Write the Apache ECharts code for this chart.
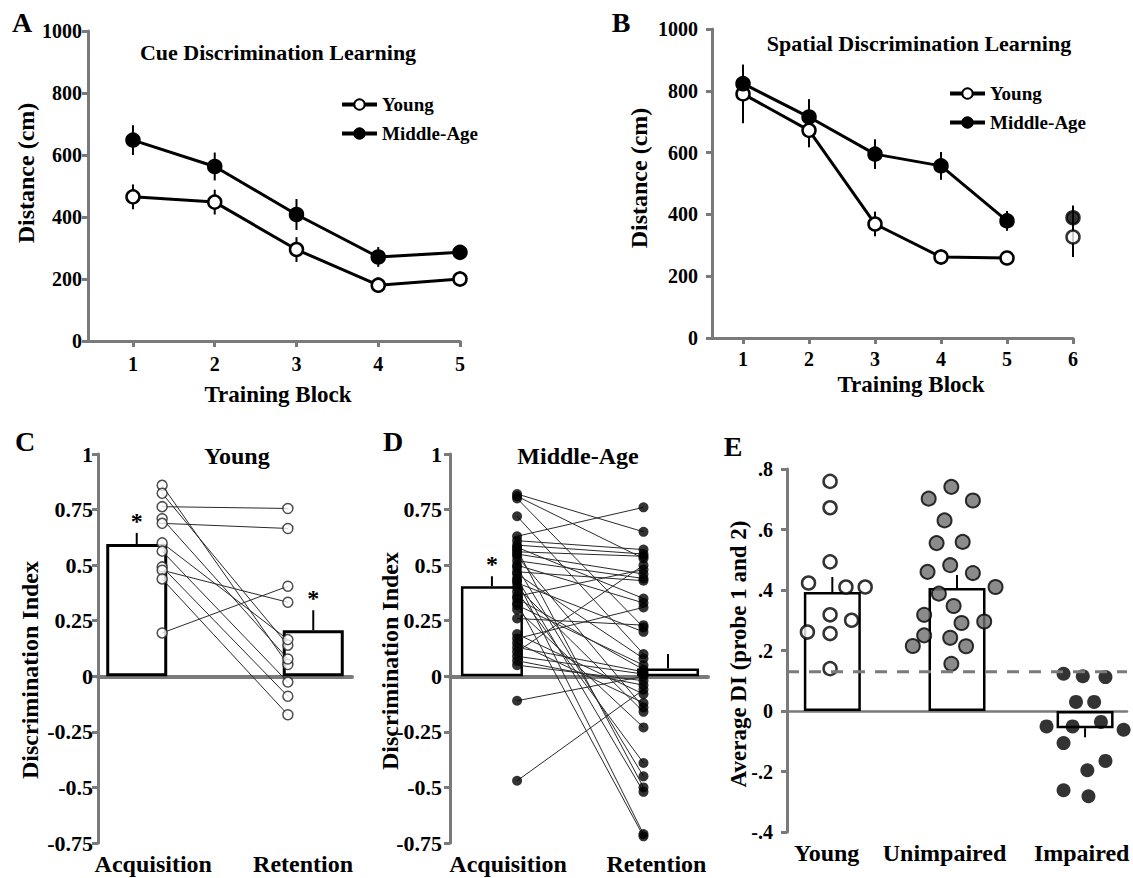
<!DOCTYPE html>
<html><head><meta charset="utf-8">
<script src="https://cdn.jsdelivr.net/npm/echarts@6/dist/echarts.min.js"></script>
<style>html,body{margin:0;padding:0;background:#fff}#c{width:1133px;height:878px}</style>
</head><body><div id="c"></div>
<script>
// ---------------- DATA ----------------
// Panel A: Cue discrimination learning
const blocksA = [1, 2, 3, 4, 5];
const cueYoung = [465, 448, 295, 180, 200];
const cueYoungErr = [40, 40, 40, 25, 25];
const cueMid = [648, 563, 408, 271, 286];
const cueMidErr = [48, 45, 50, 32, 18];
// Panel B: Spatial discrimination learning
const blocksB = [1, 2, 3, 4, 5, 6];
const spYoung = [790, 672, 369, 262, 259, 327];
const spYoungErr = [95, 55, 40, 25, 15, 65];
const spMid = [823, 715, 595, 557, 379, 389];
const spMidErr = [60, 58, 48, 45, 32, 40];
// Panels C/D: Discrimination index
const phases = ['Acquisition', 'Retention'];
const youngMean = [0.595, 0.207];
const youngSem = [0.05, 0.09];
const youngSig = ['*', '*'];
const youngAcq = [0.859, 0.823, 0.763, 0.709, 0.688, 0.600, 0.563, 0.492, 0.477, 0.438, 0.195];
const youngRet = [0.053, 0.140, 0.755, 0.078, 0.665, 0.165, -0.026, -0.090, 0.333, -0.173, 0.405];
const midMean = [0.405, 0.035];
const midSem = [0.045, 0.065];
const midSig = ['*', ''];
const midAcq = [0.82,0.81,0.80,0.72,0.63,0.61,0.59,0.58,0.57,0.56,0.55,0.54,0.52,0.50,0.49,0.47,0.46,0.44,0.43,0.42,0.40,0.38,0.36,0.35,0.33,0.32,0.30,0.26,0.19,0.17,0.15,0.13,0.11,0.09,0.07,0.05,-0.11,-0.47];
const midRet = [0.65,0.53,0.22,0.10,0.76,0.57,0.55,0.35,-0.50,0.54,0.46,-0.14,0.44,0.33,-0.45,0.43,0.08,-0.52,-0.71,0.20,-0.16,-0.39,0.48,0.03,-0.72,0.05,-0.23,0.23,-0.08,0.31,-0.12,0.02,0.50,0.01,-0.04,-0.02,0.00,-0.06];
// Panel E: Average DI, [jitter, value]
const groupsE = ['Young', 'Unimpaired', 'Impaired'];
const diMean = [0.393, 0.407, -0.057];
const diSem = [0.05, 0.043, 0.03];
const diYoung = [[-0.02,0.759],[-0.02,0.672],[-0.02,0.493],[-0.21,0.423],[0.12,0.41],[0.29,0.41],[-0.02,0.318],[0.17,0.30],[-0.22,0.261],[-0.02,0.256],[-0.02,0.14]];
const diUnimp = [[-0.05,0.741],[-0.25,0.702],[0.14,0.696],[-0.11,0.63],[-0.18,0.555],[0.05,0.559],[-0.06,0.482],[-0.26,0.46],[0.14,0.456],[0.34,0.41],[-0.16,0.388],[-0.03,0.347],[-0.29,0.318],[0.04,0.291],[0.24,0.296],[-0.29,0.25],[-0.06,0.242],[-0.39,0.215],[0.08,0.214],[-0.05,0.156]];
const diImp = [[-0.19,0.123],[-0.02,0.115],[0.18,0.112],[-0.08,0.03],[0.08,0.03],[-0.34,-0.051],[-0.11,-0.051],[0.14,-0.036],[0.34,-0.062],[-0.19,-0.106],[0.18,-0.165],[0.02,-0.196],[-0.19,-0.262],[0.03,-0.282]];
const criterion = 0.13;

// ---------------- LAYOUT / STYLE ----------------
const FONT = '"Liberation Serif", "Times New Roman", serif';
const AX = '#7a7a7a';
const txt = (s) => ({ fontFamily: FONT, fontWeight: 'bold', fontSize: s, color: '#000' });
const barPosC = [0.61, 3.39], ptPosC = [1.01, 2.99], labPosC = [0.87, 3.23];
const barPosD = [0.65, 3.38], ptPosD = [1.04, 3.0], labPosD = [0.9, 3.2];
const posE = [0.4, 1.5, 2.63], labPosE = [0.35, 1.39, 2.6];

function nearestLabel(v, pos, labels) {
  let best = 0;
  pos.forEach((p, i) => { if (Math.abs(p - v) < Math.abs(pos[best] - v)) best = i; });
  return labels[best];
}

function errRender(params, api) {
  const x = api.value(0), y = api.value(1), e = api.value(2);
  const p1 = api.coord([x, y - e]), p2 = api.coord([x, y + e]);
  return { type: 'line', shape: { x1: p1[0], y1: p1[1], x2: p2[0], y2: p2[1] }, style: { stroke: '#000', lineWidth: 2 } };
}
function oneSidedErr(params, api) {
  const x = api.value(0), m = api.value(1), e = api.value(2), sig = api.value(3);
  const s = m >= 0 ? 1 : -1;
  const p1 = api.coord([x, m]), p2 = api.coord([x, m + s * e]);
  const children = [{ type: 'line', shape: { x1: p1[0], y1: p1[1], x2: p2[0], y2: p2[1] }, style: { stroke: '#000', lineWidth: 2 } }];
  if (sig === 1) {
    children.push({ type: 'text', x: p2[0], y: p2[1] - 15 - 0.39 * 24,
      style: { text: '*', fontFamily: FONT, fontWeight: 'bold', fontSize: 24, fill: '#000', align: 'center', verticalAlign: 'top' } });
  }
  return { type: 'group', children };
}
function pairRender(pts) {
  return function (params, api) {
    const p1 = api.coord([pts[0], api.value(0)]), p2 = api.coord([pts[1], api.value(1)]);
    return { type: 'line', shape: { x1: p1[0], y1: p1[1], x2: p2[0], y2: p2[1] }, style: { stroke: '#2a2a2a', lineWidth: 1 } };
  };
}
function gText(text, x, y, size, rot) {
  return { type: 'text', x, y, rotation: rot || 0, z: 100,
    style: { text, fill: '#000', fontFamily: FONT, fontWeight: 'bold', fontSize: size, align: 'center', verticalAlign: 'middle' } };
}

const yAxisBase = (grid, extra) => Object.assign({
  gridIndex: grid, type: 'value',
  axisLine: { show: true, onZero: false, lineStyle: { color: AX, width: 3 } },
  axisTick: { show: true, length: 6, lineStyle: { color: AX, width: 3 } },
  splitLine: { show: false }
}, extra);

const xLabelAxis = (grid, pos, labels, max) => ({
  gridIndex: grid, type: 'value', min: 0, max, position: 'bottom',
  axisLine: { show: false, onZero: false }, axisTick: { show: false }, splitLine: { show: false },
  axisLabel: Object.assign({ customValues: pos, margin: 9, formatter: (v) => nearestLabel(v, pos, labels) }, txt(24))
});
const xZeroAxis = (grid, max, w) => ({
  gridIndex: grid, type: 'value', min: 0, max, position: 'bottom',
  axisLine: { show: true, onZero: true, lineStyle: { color: AX, width: w } },
  axisTick: { show: false }, axisLabel: { show: false }, splitLine: { show: false }
});

const fmtE = (v) => {
  const r = Math.round(v * 10) / 10;
  if (r === 0) return '0';
  return (r < 0 ? '-' : '') + Math.abs(r).toFixed(1).replace(/^0/, '');
};
const plain = (v) => String(v);

const lineStyleSeries = (name, xi, data, filled) => ({
  name, type: 'line', xAxisIndex: xi, yAxisIndex: xi, data, z: 3,
  symbol: 'circle', symbolSize: 13,
  itemStyle: { color: filled ? '#000' : '#fff', borderColor: '#000', borderWidth: 2.5 },
  lineStyle: { color: '#000', width: 3 }
});
const scatterLike = (name, xi, data, filled) => ({
  name, type: 'scatter', xAxisIndex: xi, yAxisIndex: xi, data, z: 3,
  symbol: 'circle', symbolSize: 13,
  itemStyle: { color: filled ? '#000' : '#fff', borderColor: '#000', borderWidth: 2.5 }
});
const legendBase = (left, top) => ({
  data: ['Young', 'Middle-Age'], left, top, orient: 'vertical', itemWidth: 35, itemHeight: 13, itemGap: 10,
  selectedMode: false, padding: 0, textStyle: txt(19),
  lineStyle: { width: 4, color: '#000' }
});

const option = {
  animation: false,
  backgroundColor: '#fff',
  grid: [
    { left: 88, top: 31, width: 372, height: 310 },
    { left: 712, top: 29, width: 361, height: 309 },
    { left: 98, top: 454, width: 254, height: 389 },
    { left: 450, top: 454, width: 258, height: 389 },
    { left: 787, top: 469, width: 340, height: 363 }
  ],
  xAxis: [
    { gridIndex: 0, type: 'value', min: 0.45, max: 5,
      axisLine: { onZero: false, lineStyle: { color: AX, width: 3 } },
      axisTick: { customValues: blocksA, length: 6, lineStyle: { color: AX, width: 3 } },
      axisLabel: Object.assign({ customValues: blocksA, margin: 13 }, txt(20)), splitLine: { show: false } },
    { gridIndex: 1, type: 'value', min: 0.53, max: 6,
      axisLine: { onZero: false, lineStyle: { color: AX, width: 3 } },
      axisTick: { customValues: blocksB, length: 6, lineStyle: { color: AX, width: 3 } },
      axisLabel: Object.assign({ customValues: blocksB, margin: 11 }, txt(20)), splitLine: { show: false } },
    xLabelAxis(2, labPosC, phases, 4),
    xLabelAxis(3, labPosD, phases, 4),
    xLabelAxis(4, labPosE, groupsE, 3),
    xZeroAxis(2, 4, 4),
    xZeroAxis(3, 4, 4),
    xZeroAxis(4, 3, 2.5)
  ],
  yAxis: [
    yAxisBase(0, { min: 0, max: 1000, interval: 200, axisLabel: Object.assign({ margin: 6, formatter: plain }, txt(20)) }),
    yAxisBase(1, { min: 0, max: 1000, interval: 200, axisLabel: Object.assign({ margin: 14, formatter: plain }, txt(20)) }),
    yAxisBase(2, { min: -0.75, max: 1, interval: 0.25, axisLabel: Object.assign({ margin: 5, formatter: plain }, txt(22)) }),
    yAxisBase(3, { min: -0.75, max: 1, interval: 0.25, axisLabel: Object.assign({ margin: 8, formatter: plain }, txt(22)) }),
    yAxisBase(4, { min: -0.4, max: 0.8, interval: 0.2, axisLabel: Object.assign({ margin: 14, formatter: fmtE }, txt(20)) })
  ],
  legend: [legendBase(340, 95), legendBase(948, 84)],
  graphic: [
    gText('A', 22, 22, 28), gText('B', 621, 22, 28), gText('C', 25, 441, 28), gText('D', 393, 441, 28), gText('E', 733, 446, 28),
    gText('Cue Discrimination Learning', 278, 52, 22),
    gText('Spatial Discrimination Learning', 919, 43, 22),
    gText('Young', 237, 456, 24),
    gText('Middle-Age', 578, 456, 24),
    gText('Training Block', 278, 394, 23),
    gText('Training Block', 911, 384, 23),
    gText('Distance (cm)', 26, 173, 24, Math.PI / 2),
    gText('Distance (cm)', 639, 178, 24, Math.PI / 2),
    gText('Discrimination Index', 30, 670, 24, Math.PI / 2),
    gText('Discrimination Index', 390, 661, 24, Math.PI / 2),
    gText('Average DI (probe 1 and 2)', 738, 654, 23, Math.PI / 2)
  ],
  series: [
    // ---- A ----
    lineStyleSeries('Young', 0, blocksA.map((b, i) => [b, cueYoung[i]]), false),
    lineStyleSeries('Middle-Age', 0, blocksA.map((b, i) => [b, cueMid[i]]), true),
    { name: 'errA1', type: 'custom', xAxisIndex: 0, yAxisIndex: 0, z: 1, renderItem: errRender,
      data: blocksA.map((b, i) => [b, cueYoung[i], cueYoungErr[i]]) },
    { name: 'errA2', type: 'custom', xAxisIndex: 0, yAxisIndex: 0, z: 1, renderItem: errRender,
      data: blocksA.map((b, i) => [b, cueMid[i], cueMidErr[i]]) },
    // ---- B ----
    lineStyleSeries('Young', 1, blocksB.slice(0, 5).map((b, i) => [b, spYoung[i]]), false),
    lineStyleSeries('Middle-Age', 1, blocksB.slice(0, 5).map((b, i) => [b, spMid[i]]), true),
    scatterLike('Young', 1, [[blocksB[5], spYoung[5]]], false),
    scatterLike('Middle-Age', 1, [[blocksB[5], spMid[5]]], true),
    { name: 'errB1', type: 'custom', xAxisIndex: 1, yAxisIndex: 1, z: 1, renderItem: errRender,
      data: blocksB.map((b, i) => [b, spYoung[i], spYoungErr[i]]) },
    { name: 'errB2', type: 'custom', xAxisIndex: 1, yAxisIndex: 1, z: 1, renderItem: errRender,
      data: blocksB.map((b, i) => [b, spMid[i], spMidErr[i]]) },
    // ---- C ----
    { name: 'barC', type: 'bar', xAxisIndex: 2, yAxisIndex: 2, barWidth: 61, z: 1,
      itemStyle: { color: '#fff', borderColor: '#000', borderWidth: 3 },
      data: phases.map((p, i) => [barPosC[i], youngMean[i]]) },
    { name: 'semC', type: 'custom', xAxisIndex: 2, yAxisIndex: 2, z: 2, renderItem: oneSidedErr,
      data: phases.map((p, i) => [barPosC[i], youngMean[i], youngSem[i], youngSig[i] ? 1 : 0]) },
    { name: 'pairsC', type: 'custom', xAxisIndex: 2, yAxisIndex: 2, z: 3, renderItem: pairRender(ptPosC),
      data: youngAcq.map((a, i) => [a, youngRet[i]]) },
    { name: 'acqC', type: 'scatter', xAxisIndex: 2, yAxisIndex: 2, z: 4, symbolSize: 10,
      itemStyle: { color: '#fff', borderColor: '#222', borderWidth: 1.5 }, data: youngAcq.map(v => [ptPosC[0], v]) },
    { name: 'retC', type: 'scatter', xAxisIndex: 2, yAxisIndex: 2, z: 4, symbolSize: 10,
      itemStyle: { color: '#fff', borderColor: '#222', borderWidth: 1.5 }, data: youngRet.map(v => [ptPosC[1], v]) },
    // ---- D ----
    { name: 'barD', type: 'bar', xAxisIndex: 3, yAxisIndex: 3, barWidth: 62, z: 1,
      itemStyle: { color: '#fff', borderColor: '#000', borderWidth: 2.5 },
      data: phases.map((p, i) => [barPosD[i], midMean[i]]) },
    { name: 'semD', type: 'custom', xAxisIndex: 3, yAxisIndex: 3, z: 2, renderItem: oneSidedErr,
      data: phases.map((p, i) => [barPosD[i], midMean[i], midSem[i], midSig[i] ? 1 : 0]) },
    { name: 'pairsD', type: 'custom', xAxisIndex: 3, yAxisIndex: 3, z: 3, renderItem: pairRender(ptPosD),
      data: midAcq.map((a, i) => [a, midRet[i]]) },
    { name: 'acqD', type: 'scatter', xAxisIndex: 3, yAxisIndex: 3, z: 4, symbolSize: 10,
      itemStyle: { color: '#000' }, data: midAcq.map(v => [ptPosD[0], v]) },
    { name: 'retD', type: 'scatter', xAxisIndex: 3, yAxisIndex: 3, z: 4, symbolSize: 10,
      itemStyle: { color: '#000' }, data: midRet.map(v => [ptPosD[1], v]) },
    // ---- E ----
    { name: 'barE', type: 'bar', xAxisIndex: 4, yAxisIndex: 4, barWidth: 57, z: 1,
      itemStyle: { color: '#fff', borderColor: '#000', borderWidth: 2.5 },
      data: groupsE.map((g, i) => [posE[i], diMean[i]]) },
    { name: 'semE', type: 'custom', xAxisIndex: 4, yAxisIndex: 4, z: 2, renderItem: oneSidedErr,
      data: groupsE.map((g, i) => [posE[i], diMean[i], diSem[i], 0]) },
    { name: 'Young E', type: 'scatter', xAxisIndex: 4, yAxisIndex: 4, z: 3, symbolSize: 13,
      itemStyle: { color: '#fff', borderColor: '#000', borderWidth: 2.5 }, data: diYoung.map(([o, v]) => [posE[0] + o, v]) },
    { name: 'Unimpaired E', type: 'scatter', xAxisIndex: 4, yAxisIndex: 4, z: 3, symbolSize: 14,
      itemStyle: { color: '#6e6e6e', borderColor: '#000', borderWidth: 2 }, data: diUnimp.map(([o, v]) => [posE[1] + o, v]) },
    { name: 'Impaired E', type: 'scatter', xAxisIndex: 4, yAxisIndex: 4, z: 3, symbolSize: 14,
      itemStyle: { color: '#000' }, data: diImp.map(([o, v]) => [posE[2] + o, v]) },
    { name: 'criterion', type: 'custom', xAxisIndex: 4, yAxisIndex: 4, z: 6,
      renderItem: function (params, api) {
        const cs = params.coordSys; const p = api.coord([0, api.value(1)]);
        return { type: 'line', shape: { x1: cs.x, y1: p[1], x2: cs.x + cs.width, y2: p[1] },
          style: { stroke: '#7a7a7a', lineWidth: 3, lineDash: [12, 10] } };
      },
      data: [[0, criterion]] }
  ]
};

const chart = echarts.init(document.getElementById('c'), null, { renderer: 'svg', width: 1133, height: 878 });
chart.setOption(option);
</script>
</body></html>
